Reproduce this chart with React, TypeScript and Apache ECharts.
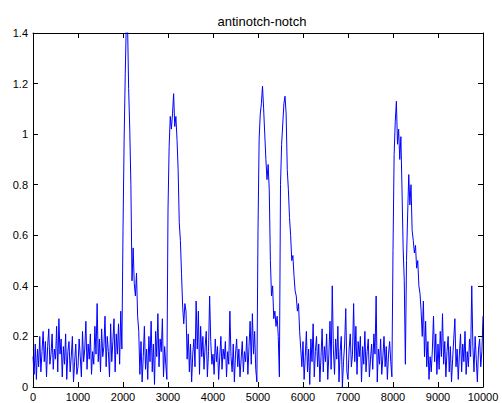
import React, { useEffect, useRef } from "react";
import * as echarts from "echarts";

// Sample spacing along the x axis (one value every STEP samples).
const STEP = 25;

// Signal values, one block per 1000 samples.
const block0 = [
  0.12, 0.05, 0.17, 0.03, 0.15, 0.08, 0.2, 0.06, 0.14, 0.22,
  0.1, 0.18, 0.04, 0.16, 0.23, 0.09, 0.13, 0.21, 0.07, 0.15,
  0.11, 0.24, 0.06, 0.27, 0.13, 0.19, 0.04, 0.16, 0.09, 0.21,
  0.03, 0.14, 0.18, 0.06, 0.12, 0.2, 0.02, 0.1, 0.17, 0.05,
];
const block1 = [
  0.08, 0.19, 0.12, 0.04, 0.22, 0.1, 0.15, 0.26, 0.07, 0.17,
  0.11, 0.21, 0.05, 0.14, 0.09, 0.24, 0.13, 0.33, 0.1, 0.19,
  0.06, 0.23, 0.12, 0.16, 0.28, 0.08, 0.2, 0.14, 0.04, 0.25,
  0.1, 0.18, 0.27, 0.06, 0.21, 0.13, 0.25, 0.09, 0.3, 0.15,
];
const block2 = [
  0.62, 0.98, 1.24, 1.45, 1.45, 1.18, 1.02, 0.8, 0.42, 0.55,
  0.41, 0.36, 0.45, 0.28, 0.22, 0.05, 0.18, 0.02, 0.12, 0.24,
  0.07, 0.15, 0.03, 0.2, 0.1, 0.26, 0.06, 0.17, 0.01, 0.22,
  0.12, 0.29, 0.08, 0.19, 0.14, 0.27, 0.04, 0.16, 0.09, 0.03,
];
const block3 = [
  0.7, 0.95, 1.07, 1.02, 1.08, 1.16, 1.03, 1.07, 0.98, 0.86,
  0.65, 0.58, 0.45, 0.32, 0.25, 0.33, 0.3, 0.11, 0.21, 0.06,
  0.17, 0.02, 0.13, 0.19, 0.08, 0.34, 0.15, 0.3, 0.05, 0.24,
  0.12, 0.2, 0.07, 0.16, 0.22, 0.04, 0.14, 0.36, 0.18, 0.09,
];
const block4 = [
  0.13, 0.05, 0.19, 0.1, 0.16, 0.03, 0.12, 0.2, 0.07, 0.15,
  0.11, 0.18, 0.04, 0.14, 0.09, 0.3, 0.12, 0.06, 0.17, 0.02,
  0.13, 0.19, 0.08, 0.15, 0.04, 0.11, 0.18, 0.06, 0.14, 0.1,
  0.2, 0.05, 0.16, 0.26, 0.09, 0.29, 0.13, 0.22, 0.07, 0.02,
];
const block5 = [
  0.62, 0.98, 1.08, 1.12, 1.19, 1.1, 1.0, 0.9, 0.82, 0.88,
  0.78, 0.5, 0.36, 0.4, 0.27, 0.3, 0.24, 0.28, 0.2, 0.04,
  0.8, 0.96, 1.04, 1.12, 1.15, 1.08, 0.86, 0.78, 0.67, 0.6,
  0.5, 0.52, 0.44, 0.38, 0.36, 0.3, 0.33, 0.22, 0.15, 0.08,
];
const block6 = [
  0.18, 0.03, 0.12, 0.22, 0.06, 0.15, 0.01, 0.19, 0.1, 0.25,
  0.04, 0.14, 0.2, 0.08, 0.17, 0.02, 0.12, 0.23, 0.06, 0.16,
  0.1, 0.21, 0.03, 0.13, 0.26, 0.07, 0.4, 0.15, 0.05, 0.19,
  0.11, 0.24, 0.02, 0.14, 0.2, 0.0, 0.1, 0.17, 0.31, 0.06,
];
const block7 = [
  0.03, 0.15, 0.21, 0.08, 0.13, 0.33, 0.1, 0.24, 0.05, 0.18,
  0.12, 0.2, 0.02, 0.16, 0.09, 0.22, 0.06, 0.14, 0.19, 0.04,
  0.11, 0.17, 0.07, 0.21, 0.13, 0.36, 0.02, 0.15, 0.09, 0.19,
  0.05, 0.12, 0.2, 0.08, 0.16, 0.03, 0.13, 0.18, 0.1, 0.04,
];
const block8 = [
  0.54, 0.92, 1.05, 1.13, 0.96, 1.02, 0.9, 0.99, 0.78, 0.55,
  0.42, 0.09, 0.5, 0.68, 0.84, 0.72, 0.8, 0.62, 0.58, 0.53,
  0.56, 0.47, 0.5, 0.4, 0.37, 0.3, 0.2, 0.34, 0.12, 0.26,
  0.08, 0.18, 0.03, 0.12, 0.06, 0.15, 0.28, 0.1, 0.21, 0.05,
];
const block9 = [
  0.17, 0.07, 0.22, 0.12, 0.29, 0.09, 0.18, 0.04, 0.14, 0.2,
  0.06, 0.16, 0.02, 0.11, 0.19, 0.27, 0.08, 0.15, 0.03, 0.13,
  0.21, 0.06, 0.17, 0.1, 0.22, 0.05, 0.14, 0.08, 0.19, 0.12,
  0.4, 0.16, 0.06, 0.2, 0.11, 0.02, 0.15, 0.19, 0.08, 0.14,
];
const lastValue = [0.28];

const signal = [
  ...block0, ...block1, ...block2, ...block3, ...block4,
  ...block5, ...block6, ...block7, ...block8, ...block9, ...lastValue,
];

const xTicks = [0, 1000, 2000, 3000, 4000, 5000, 6000, 7000, 8000, 9000, 10000];
const yTicks = [0, 0.2, 0.4, 0.6, 0.8, 1, 1.2, 1.4];

const FONT = "'Liberation Sans', Arial, sans-serif";

export default function App() {
  const ref = useRef<HTMLDivElement>(null);

  useEffect(() => {
    if (!ref.current) return;
    const chart = echarts.init(ref.current, undefined, { renderer: "svg" });

    const points = signal.map((v, i) => [i * STEP, v]);
    const xMax = xTicks[xTicks.length - 1];
    const yMax = yTicks[yTicks.length - 1];

    const tickStyle = { show: true, inside: true, length: 5, lineStyle: { color: "#000", width: 1 } };
    const lineStyle = { show: true, onZero: false, lineStyle: { color: "#000", width: 1 } };
    const labelStyle = { color: "#000", fontSize: 11, fontFamily: FONT };

    chart.setOption({
      animation: false,
      backgroundColor: "#fff",
      title: {
        text: "antinotch-notch",
        left: 257,
        top: 10,
        textAlign: "center",
        textStyle: { color: "#000", fontSize: 13, fontWeight: "normal", fontFamily: FONT },
      },
      grid: { left: 33, right: 19, top: 33, bottom: 16, containLabel: false },
      xAxis: [
        {
          type: "value",
          min: 0,
          max: xMax,
          interval: 1000,
          position: "bottom",
          axisLine: lineStyle,
          axisTick: tickStyle,
          axisLabel: { ...labelStyle, margin: 4, formatter: (v: number) => String(v) },
          splitLine: { show: false },
        },
        {
          type: "value",
          min: 0,
          max: xMax,
          interval: 1000,
          position: "top",
          axisLine: lineStyle,
          axisTick: tickStyle,
          axisLabel: { show: false },
          splitLine: { show: false },
        },
      ],
      yAxis: [
        {
          type: "value",
          min: 0,
          max: yMax,
          interval: 0.2,
          position: "left",
          axisLine: lineStyle,
          axisTick: tickStyle,
          axisLabel: {
            ...labelStyle,
            margin: 5,
            formatter: (v: number) => String(Math.round(v * 10) / 10),
          },
          splitLine: { show: false },
        },
        {
          type: "value",
          min: 0,
          max: yMax,
          interval: 0.2,
          position: "right",
          axisLine: lineStyle,
          axisTick: tickStyle,
          axisLabel: { show: false },
          splitLine: { show: false },
        },
      ],
      series: [
        {
          type: "line",
          data: points,
          xAxisIndex: 0,
          yAxisIndex: 0,
          showSymbol: false,
          symbol: "none",
          clip: true,
          lineStyle: { color: "#0000ff", width: 1 },
          itemStyle: { color: "#0000ff" },
        },
      ],
    });

    return () => chart.dispose();
  }, []);

  return (
    <div
      ref={ref}
      style={{ position: "fixed", left: 0, top: 0, width: 502, height: 403, background: "#fff" }}
    />
  );
}
